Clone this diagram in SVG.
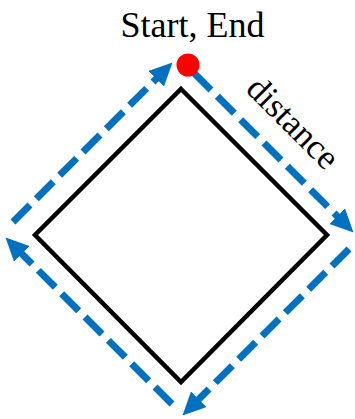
<svg xmlns="http://www.w3.org/2000/svg" width="355" height="419" viewBox="0 0 355 419">
<style>
.dash{fill:none;stroke:#0070C0;stroke-width:7;stroke-dasharray:24 9;marker-end:url(#ah)}
.lbl{font-family:"Liberation Serif","Times New Roman",serif;fill:#000}
</style>
<defs>
<marker id="ah" markerUnits="userSpaceOnUse" markerWidth="24" markerHeight="24" refX="11" refY="11" orient="auto" viewBox="0 0 24 24">
<path d="M0,0 L23,11 L0,22 z" fill="#0070C0"/>
</marker>
</defs>
<g id="square">
<polygon points="181,89 327,235 181,382 35,235" fill="none" stroke="#000" stroke-width="4.5"/>
</g>
<g id="connectors">
<line class="dash" x1="194" y1="73" x2="345" y2="224"/>
<line class="dash" x1="349" y1="249" x2="191" y2="407"/>
<line class="dash" x1="172" y1="404" x2="14" y2="246"/>
<line class="dash" x1="13" y1="222" x2="164" y2="71"/>
</g>
<g id="start">
<circle cx="188" cy="65" r="11.5" fill="#FF0000"/>
</g>
<g id="labels">
<text class="lbl" x="192.5" y="37" font-size="36" text-anchor="middle">Start, End</text>
<text class="lbl" font-size="35" text-anchor="middle" transform="translate(285,131) rotate(45)">distance</text>
</g>
</svg>
